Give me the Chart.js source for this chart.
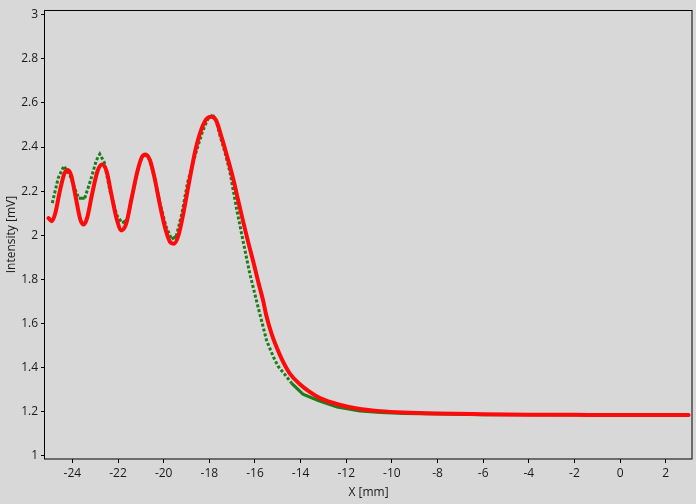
<!DOCTYPE html>
<html>
<head>
<meta charset="utf-8">
<script src="https://cdn.jsdelivr.net/npm/chart.js@4"></script>
<style>
  html, body { margin: 0; padding: 0; background: #d8d8d8; }
  #wrap { width: 696px; height: 504px; position: relative; }
</style>
</head>
<body>
<div id="wrap"><canvas id="chart"></canvas></div>
<script>
// Data
const redX = [-25.05, -24.9, -24.75, -24.55, -24.35, -24.2, -24.05, -23.85, -23.65, -23.5,
  -23.35, -23.15, -22.9, -22.7, -22.5, -22.3, -22.05, -21.85, -21.65, -21.4,
  -21.15, -20.95, -20.8, -20.6, -20.4, -20.15, -19.9, -19.7, -19.55, -19.35,
  -19.1, -18.85, -18.6, -18.35, -18.1, -17.9, -17.7, -17.45, -17.2, -16.96,
  -16.74, -16.52, -16.3, -16.08, -15.86, -15.64, -15.5, -15.27, -15.05, -14.83,
  -14.47, -14.03, -13.6, -13.15, -12.3, -11.4, -10.5, -9.5, -8, -6,
  -4, -2, 0, 2, 3.0];
const redY = [2.078, 2.064, 2.10, 2.20, 2.28, 2.296, 2.27, 2.17, 2.07, 2.049,
  2.08, 2.18, 2.29, 2.321, 2.29, 2.19, 2.07, 2.022, 2.05, 2.17,
  2.29, 2.355, 2.366, 2.34, 2.26, 2.13, 2.02, 1.967, 1.962, 2.0,
  2.12, 2.26, 2.39, 2.48, 2.53, 2.537, 2.52, 2.44, 2.35, 2.258,
  2.16, 2.063, 1.97, 1.883, 1.79, 1.703, 1.635, 1.553, 1.492, 1.44,
  1.373, 1.325, 1.29, 1.262, 1.232, 1.213, 1.203, 1.197, 1.192, 1.189,
  1.187, 1.186, 1.185, 1.185, 1.185];

const greenX = [-24.88, -24.62, -24.37, -24.1, -23.85, -23.72, -23.46, -23.2, -22.95, -22.8,
  -22.6, -22.35, -22.05, -21.82, -21.6, -21.4, -21.15, -20.95, -20.8, -20.6,
  -20.4, -20.15, -19.9, -19.65, -19.45, -19.2, -18.95, -18.6, -18.3, -18.05,
  -17.85, -17.7, -17.54, -17.3, -17.1, -16.81, -16.52, -16.22, -15.86, -15.49,
  -15.2, -14.98, -14.7, -14.4, -13.9, -13.2, -12.4, -11.4, -10.5, -9.5,
  -8, -6, -4, -2, 0, 2, 3.0];
const greenY = [2.146, 2.26, 2.314, 2.27, 2.2, 2.168, 2.168, 2.25, 2.34, 2.368,
  2.33, 2.2, 2.09, 2.056, 2.07, 2.17, 2.29, 2.355, 2.366, 2.34,
  2.26, 2.14, 2.04, 1.982, 1.995, 2.1, 2.24, 2.37, 2.47, 2.53,
  2.545, 2.52, 2.454, 2.37, 2.288, 2.123, 1.973, 1.823, 1.673, 1.523,
  1.45, 1.405, 1.37, 1.33, 1.28, 1.25, 1.222, 1.204, 1.197, 1.192,
  1.19, 1.187, 1.186, 1.185, 1.185, 1.184, 1.184];

const xTicks = [-24, -22, -20, -18, -16, -14, -12, -10, -8, -6, -4, -2, 0, 2];
const yTicks = [1, 1.2, 1.4, 1.6, 1.8, 2, 2.2, 2.4, 2.6, 2.8, 3];
const yTickLabels = ['1', '1.2', '1.4', '1.6', '1.8', '2', '2.2', '2.4', '2.6', '2.8', '3'];

const toPoints = (xs, ys) => xs.map((x, i) => ({ x: x, y: ys[i] }));

// background + frame around the plot area
const framePlugin = {
  id: 'frame',
  beforeDraw(chart) {
    const c = chart.ctx;
    c.save();
    c.fillStyle = '#d8d8d8';
    c.fillRect(0, 0, chart.width, chart.height);
    c.restore();
  },
  beforeDatasetsDraw(chart) {
    const a = chart.chartArea;
    const c = chart.ctx;
    c.save();
    c.strokeStyle = '#000';
    c.lineWidth = 1;
    c.strokeRect(Math.round(a.left) - 0.5, Math.round(a.top) + 0.5,
      Math.round(a.right - a.left) + 0.5, Math.round(a.bottom - a.top) - 0.5);
    c.restore();
  }
};

const font = { family: 'Open Sans', size: 12 };

new Chart(document.getElementById('chart'), {
  type: 'line',
  data: {
    datasets: [
      {
        label: 'red',
        data: toPoints(redX, redY),
        borderColor: '#ff0a0a',
        borderWidth: 4,
        pointRadius: 0,
        cubicInterpolationMode: 'monotone',
        borderCapStyle: 'round',
        borderJoinStyle: 'round'
      },
      {
        label: 'green',
        data: toPoints(greenX, greenY),
        borderColor: '#1a7d1a',
        borderWidth: 3,
        pointRadius: 0,
        tension: 0,
        segment: {
          // steep parts show the sample dots apart, flat parts look solid
          borderDash: ctx => Math.abs(ctx.p1.y - ctx.p0.y) > 1.2 * Math.abs(ctx.p1.x - ctx.p0.x) ? [3, 2] : undefined
        }
      }
    ]
  },
  options: {
    responsive: true,
    maintainAspectRatio: false,
    animation: false,
    layout: { padding: { top: 8, right: 4, left: 0, bottom: 0 } },
    plugins: { legend: { display: false }, tooltip: { enabled: false } },
    scales: {
      x: {
        type: 'linear',
        min: -25.2,
        max: 3.15,
        afterBuildTicks: s => { s.ticks = xTicks.map(v => ({ value: v })); },
        afterFit: s => { s.height = 45; s.paddingLeft = 0; s.paddingRight = 0; },
        grid: { drawOnChartArea: false, tickLength: 4, color: '#000' },
        border: { display: false },
        ticks: { font: font, color: '#1a1a1a', padding: 3, maxRotation: 0, autoSkip: false },
        title: { display: true, text: 'X [mm]', font: font, color: '#1a1a1a' }
      },
      y: {
        min: 0.986,
        max: 3.02,
        afterBuildTicks: s => { s.ticks = yTicks.map(v => ({ value: v })); },
        afterFit: s => { s.width = 45; },
        grid: { drawOnChartArea: false, tickLength: 4, color: '#000' },
        border: { display: false },
        ticks: {
          font: font, color: '#1a1a1a', padding: 3, autoSkip: false,
          callback: (v, i) => yTickLabels[i]
        },
        title: { display: true, text: 'Intensity [mV]', font: font, color: '#1a1a1a' }
      }
    }
  },
  plugins: [framePlugin]
});
</script>
</body>
</html>
